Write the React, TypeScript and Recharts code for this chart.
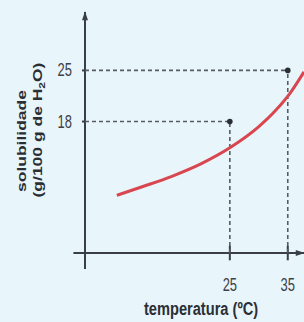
import React from 'react';
import {
  ComposedChart,
  Line,
  Scatter,
  XAxis,
  YAxis,
  ReferenceLine,
} from 'recharts';

// temperatura (ºC) ao longo da curva e solubilidade
const curveTemps = [5.5, 10, 15, 20, 25, 30, 33, 35.5, 37.8];
const curveSolub = [7.9, 9.1, 10.5, 12.2, 14.4, 17.3, 19.6, 22.0, 24.8];

// pontos marcados com linhas tracejadas
const markTemps = [25, 35];
const markSolub = [18, 25];

const xTicks = [25, 35];
const yTicks = [18, 25];

const xMax = 37.8;
const yMax = 33;

const curveData = curveTemps.map((t, i) => ({ t, s: curveSolub[i] }));
const markData = markTemps.map((t, i) => ({ t, s: markSolub[i] }));

const AXIS = '#3a3f45';
const DASH = '#575c63';
const FONT = '"Liberation Sans", Arial, sans-serif';
const SQUEEZE = 0.72;

const XTick = (props: any) => {
  const { x, y, payload } = props;
  return (
    <text
      transform={`translate(${x},${y + 38}) scale(${SQUEEZE},1)`}
      textAnchor="middle"
      fontFamily={FONT}
      fontSize={18}
      fill="#3d4248"
    >
      {payload.value}
    </text>
  );
};

const YTick = (props: any) => {
  const { x, y, payload } = props;
  return (
    <text
      transform={`translate(${x},${y + 6}) scale(${SQUEEZE},1)`}
      textAnchor="end"
      fontFamily={FONT}
      fontSize={18}
      fill="#3d4248"
    >
      {payload.value}
    </text>
  );
};

const XLabel = (props: any) => {
  const { viewBox } = props;
  const cx = viewBox.x + viewBox.width * 0.53;
  return (
    <text
      transform={`translate(${cx},${viewBox.y + 62}) scale(0.77,1)`}
      textAnchor="middle"
      fontFamily={FONT}
      fontSize={19}
      fontWeight="bold"
      fill="#2b2f34"
    >
      temperatura (ºC)
    </text>
  );
};

const YLabel = () => (
  <g fontFamily={FONT} fontWeight="bold" fill="#2b2f34" fontSize={17.5}>
    <text transform={`translate(26,141) scale(${SQUEEZE},1) rotate(-90)`} textAnchor="middle">
      solubilidade
    </text>
    <text transform={`translate(42,130) scale(${SQUEEZE},1) rotate(-90)`} textAnchor="middle">
      (g/100 g de H
      <tspan fontSize={12} dy={4}>2</tspan>
      <tspan dy={-4}>O)</tspan>
    </text>
  </g>
);

const arrowLine = (props: any) => (
  <line
    x1={props.x1}
    y1={props.y1}
    x2={props.x2}
    y2={props.y2}
    stroke={AXIS}
    strokeWidth={2}
    markerEnd="url(#arrowHead)"
  />
);

export default function App() {
  return (
    <div style={{ position: 'absolute', left: 0, top: 0, width: 304, height: 322, background: '#e8f5fb' }}>
      <ComposedChart
        width={304}
        height={322}
        data={curveData}
        margin={{ top: 12, right: 0, bottom: 39, left: 0 }}
      >
        <defs>
          <marker
            id="arrowHead"
            viewBox="0 0 12 8"
            refX="11"
            refY="4"
            markerWidth="12"
            markerHeight="6"
            markerUnits="userSpaceOnUse"
            orient="auto"
          >
            <path d="M0,0 L12,4 L0,8 z" fill={AXIS} />
          </marker>
        </defs>
        <XAxis
          type="number"
          dataKey="t"
          domain={[0, xMax]}
          ticks={xTicks}
          axisLine={false}
          tickLine={false}
          tickSize={0}
          tickMargin={0}
          height={30}
          tick={<XTick />}
          label={<XLabel />}
        />
        <YAxis
          type="number"
          dataKey="s"
          domain={[0, yMax]}
          ticks={yTicks}
          width={85}
          axisLine={false}
          tickSize={3}
          tickMargin={10}
          tickLine={{ stroke: AXIS, strokeWidth: 2 }}
          tick={<YTick />}
          label={<YLabel />}
        />
        {/* eixos */}
        <ReferenceLine
          segment={[{ x: -2, y: 0 }, { x: xMax, y: 0 }]}
          ifOverflow="visible"
          shape={arrowLine}
        />
        <ReferenceLine
          segment={[{ x: 0, y: -2.2 }, { x: 0, y: yMax }]}
          ifOverflow="visible"
          shape={arrowLine}
        />
        {/* marcas no eixo x */}
        {markTemps.map((t) => (
          <ReferenceLine
            key={`tick-${t}`}
            segment={[{ x: t, y: -1 }, { x: t, y: 1 }]}
            ifOverflow="visible"
            stroke={AXIS}
            strokeWidth={2}
          />
        ))}
        {/* linhas tracejadas */}
        {markData.map((d) => (
          <ReferenceLine
            key={`h-${d.t}`}
            segment={[{ x: 0, y: d.s }, { x: d.t, y: d.s }]}
            ifOverflow="visible"
            stroke={DASH}
            strokeWidth={1.6}
            strokeDasharray="4 3"
          />
        ))}
        {markData.map((d) => (
          <ReferenceLine
            key={`v-${d.t}`}
            segment={[{ x: d.t, y: 0 }, { x: d.t, y: d.s }]}
            ifOverflow="visible"
            stroke={DASH}
            strokeWidth={1.6}
            strokeDasharray="4 3"
          />
        ))}
        <Line
          type="monotone"
          dataKey="s"
          stroke="#d8464f"
          strokeWidth={3}
          dot={false}
          activeDot={false}
          isAnimationActive={false}
        />
        <Scatter
          data={markData}
          fill="#2b2e33"
          shape={(p: any) => <circle cx={p.cx} cy={p.cy} r={2.8} fill="#2b2e33" />}
          isAnimationActive={false}
        />
      </ComposedChart>
    </div>
  );
}
